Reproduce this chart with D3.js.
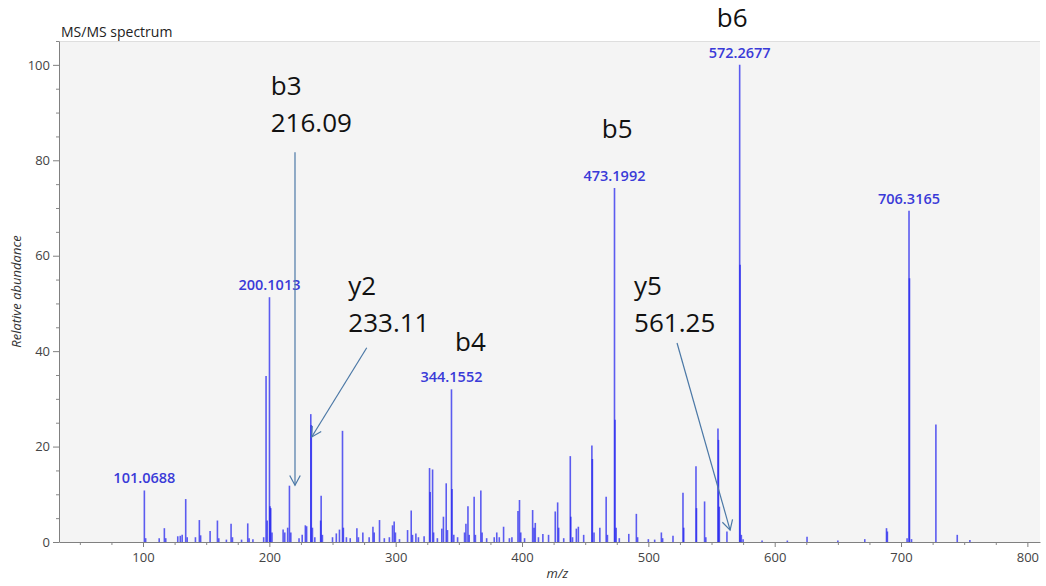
<!DOCTYPE html>
<html>
<head>
<meta charset="utf-8">
<script src="https://cdn.jsdelivr.net/npm/d3@7"></script>
<style>
  body { margin: 0; background: #fff; }
  text { font-family: "Open Sans", "DejaVu Sans", sans-serif; }
</style>
</head>
<body>
<div id="canva"><svg></svg></div>
<script>
const width = 1046;
const height = 586;

// peaks (m/z, relative abundance)
const peakMz = [101.07, 102.1, 112.8, 116.9, 118.0, 127.5, 129.5, 131.0, 133.8, 135.0, 141.5, 144.6, 145.6, 153.1, 158.9, 160.0, 166.0, 169.7, 170.8, 178.0,
  182.9, 184.0, 187.0, 195.5, 197.4, 198.3, 200.1, 200.5, 201.1, 202.1, 210.9, 212.2, 214.5, 215.9, 217.0, 223.5, 226.0, 228.5, 229.5, 232.8,
  233.2, 234.1, 236.0, 240.6, 241.0, 242.0, 250.0, 253.0, 255.5, 257.9, 258.6, 261.0, 264.0, 269.3, 270.5, 274.0, 279.0, 282.0, 283.0, 287.2,
  291.0, 295.0, 297.5, 298.8, 299.8, 303.0, 309.4, 312.3, 313.3, 316.0, 318.0, 322.5, 326.8, 327.3, 329.2, 330.0, 333.0, 336.5, 337.8, 340.0,
  341.0, 344.16, 344.6, 346.0, 349.0, 354.5, 355.6, 357.2, 358.2, 362.1, 363.1, 367.4, 368.4, 372.0, 378.0, 380.0, 382.0, 385.4, 390.0, 392.0,
  396.8, 398.0, 399.0, 402.0, 408.4, 409.5, 410.5, 413.0, 416.5, 421.0, 426.3, 428.2, 429.0, 433.0, 438.2, 438.6, 440.0, 443.0, 444.6, 448.8,
  455.3, 455.7, 457.0, 461.6, 466.6, 467.6, 473.2, 473.6, 474.5, 477.0, 484.5, 490.5, 491.5, 500.0, 505.0, 510.3, 511.3, 519.5, 527.4, 528.0,
  537.7, 538.1, 544.5, 545.5, 555.1, 555.5, 556.2, 562.2, 572.27, 572.6, 573.6, 575.0, 590.0, 610.0, 625.6, 650.0, 671.3, 688.5, 689.2, 704.8,
  706.32, 706.7, 708.3, 727.6, 744.5, 754.5];
const peakInt = [10.8, 0.8, 0.8, 2.9, 0.8, 1.2, 1.3, 1.5, 9.0, 1.0, 1.0, 4.6, 1.4, 2.3, 4.5, 0.8, 0.5, 3.8, 1.0, 0.5,
  3.9, 0.8, 0.6, 1.0, 34.8, 4.5, 51.3, 7.5, 7.1, 2.0, 2.6, 2.0, 3.0, 11.8, 2.0, 0.8, 1.5, 3.5, 3.3, 26.8,
  24.5, 3.0, 1.0, 4.5, 9.7, 1.5, 1.0, 1.8, 2.6, 23.3, 3.0, 1.0, 0.8, 2.9, 1.0, 2.0, 1.0, 3.2, 2.0, 4.6,
  0.8, 1.0, 3.5, 4.3, 2.0, 0.6, 2.5, 6.6, 1.5, 1.8, 1.0, 1.2, 15.5, 10.5, 15.2, 2.0, 0.8, 2.8, 5.3, 12.3,
  2.5, 32.0, 11.1, 1.5, 1.0, 2.0, 3.8, 7.5, 1.5, 9.5, 1.5, 10.8, 2.0, 0.8, 1.0, 2.0, 1.0, 3.2, 0.8, 1.0,
  6.5, 8.8, 2.0, 0.8, 6.7, 3.0, 4.0, 1.0, 1.7, 1.5, 6.4, 8.3, 3.0, 0.8, 18.0, 5.3, 1.0, 2.8, 3.2, 1.5,
  20.2, 17.4, 2.0, 3.0, 9.5, 1.5, 74.2, 25.6, 3.0, 0.8, 1.7, 5.9, 1.0, 0.6, 0.5, 2.0, 0.8, 1.3, 10.3, 3.0,
  15.9, 7.1, 8.5, 1.0, 23.8, 21.4, 7.4, 2.2, 100, 58.1, 1.5, 0.6, 0.3, 0.3, 1.1, 0.3, 0.6, 2.9, 2.2, 0.8,
  69.4, 55.3, 0.6, 24.6, 1.5, 0.4];

// labelled peaks
const labelMz = [101.0688, 200.1013, 344.1552, 473.1992, 572.2677, 706.3165];
const labelInt = [10.8, 51.3, 32.0, 74.2, 100, 69.4];

// ion annotations (black text)
const ionNames = ["b3", "y2", "b4", "b5", "b6", "y5"];
const ionMz = [216.09, 233.11, null, null, null, 561.25];
const ionTextX = [201.1, 262.5, 347.0, 463.1, 554.2, 488.7];
const ionTextY = [93.7, 51.8, 40.1, 84.7, 108.0, 51.8];

// arrows [m/z, abundance] start and end
const arrowFrom = [[220.3, 81.7], [277.1, 40.7], [522.7, 41.7]];
const arrowTo = [[220.3, 11.9], [233.5, 22.0], [564.7, 2.5]];

const xTicks = [100, 200, 300, 400, 500, 600, 700, 800];
const yTicks = [0, 20, 40, 60, 80, 100];

const svg = d3.select("#canva").select("svg")
  .attr("width", width)
  .attr("height", height);

const x = d3.scaleLinear().domain([33.5, 810]).range([59, 1040]);
const y = d3.scaleLinear().domain([0, 105]).range([542, 41]);

// plot background
svg.append("rect")
  .attr("x", x.range()[0]).attr("y", y.range()[1])
  .attr("width", x.range()[1] - x.range()[0])
  .attr("height", y.range()[0] - y.range()[1])
  .attr("fill", "#f4f4f4");
svg.append("line")
  .attr("x1", x.range()[0]).attr("x2", x.range()[1])
  .attr("y1", y.range()[1] + 0.5).attr("y2", y.range()[1] + 0.5)
  .attr("stroke", "#dedede");

// minor ticks first, then the main axes on top
const xMinor = d3.range(50, 801, 25).filter(d => d % 100 != 0);
svg.append("g")
  .attr("transform", `translate(0,${y(0)})`)
  .call(d3.axisBottom(x).tickValues(xMinor).tickSize(3).tickFormat(""))
  .call(g => g.select(".domain").remove())
  .selectAll("line").attr("stroke", "#888");

const yMinor = d3.range(5, 106, 5).filter(d => d % 20 != 0);
svg.append("g")
  .attr("transform", `translate(${x.range()[0]},0)`)
  .call(d3.axisLeft(y).tickValues(yMinor).tickSize(3).tickFormat(""))
  .call(g => g.select(".domain").remove())
  .selectAll("line").attr("stroke", "#888");

const xAxis = svg.append("g")
  .attr("transform", `translate(0,${y(0)})`)
  .call(d3.axisBottom(x).tickValues(xTicks).tickSize(5).tickSizeOuter(0).tickPadding(6));

const yAxis = svg.append("g")
  .attr("transform", `translate(${x.range()[0]},0)`)
  .call(d3.axisLeft(y).tickValues(yTicks).tickSize(6).tickSizeOuter(0).tickPadding(3));

[xAxis, yAxis].forEach(function(g){
  g.select(".domain").attr("stroke", "#808080");
  g.selectAll(".tick line").attr("stroke", "#808080");
  g.selectAll(".tick text")
    .attr("fill", "#444")
    .style("font-size", "13px")
    .style("font-family", '"Open Sans", sans-serif');
});

// the spectrum sticks
const peaks = peakMz.map((m, i) => ({mz: m, v: peakInt[i]}));
svg.append("g")
  .selectAll("line")
  .data(peaks)
  .join("line")
  .attr("x1", d => x(d.mz)).attr("x2", d => x(d.mz))
  .attr("y1", y(0)).attr("y2", d => y(d.v))
  .attr("stroke", "#2020ee")
  .attr("stroke-opacity", 0.72)
  .attr("stroke-width", 1.6);

// peak m/z labels
svg.append("g")
  .selectAll("text")
  .data(labelMz)
  .join("text")
  .attr("x", d => x(d))
  .attr("y", (d, i) => y(labelInt[i]) - 7)
  .attr("text-anchor", "middle")
  .attr("fill", "#3a3ad8")
  .style("font-size", "14.5px")
  .style("font-weight", 600)
  .text(d => d.toFixed(4));

// ion annotation text, second line holds the m/z
const ions = ionNames.map((n, i) => ({name: n, mz: ionMz[i], tx: ionTextX[i], ty: ionTextY[i]}));
const ionG = svg.append("g")
  .selectAll("g")
  .data(ions)
  .join("g")
  .attr("transform", d => `translate(${x(d.tx)},${y(d.ty)})`);
ionG.append("text")
  .text(d => d.name)
  .attr("fill", "#111")
  .style("font-size", "26px");
ionG.filter(d => d.mz != null)
  .append("text")
  .attr("y", 37)
  .text(d => d.mz.toFixed(2))
  .attr("fill", "#111")
  .style("font-size", "26px");

// arrows with open heads
const arrowColor = "#4b78a6";
const arrowG = svg.append("g");
arrowFrom.forEach(function(a, i){
  const x1 = x(a[0]), y1 = y(a[1]);
  const x2 = x(arrowTo[i][0]), y2 = y(arrowTo[i][1]);
  arrowG.append("line")
    .attr("x1", x1).attr("y1", y1).attr("x2", x2).attr("y2", y2)
    .attr("stroke", arrowColor).attr("stroke-width", 1.2);
  const ang = Math.atan2(y2 - y1, x2 - x1);
  const len = 11, spread = 0.5;
  const p = d3.path();
  p.moveTo(x2 - len * Math.cos(ang - spread), y2 - len * Math.sin(ang - spread));
  p.lineTo(x2, y2);
  p.lineTo(x2 - len * Math.cos(ang + spread), y2 - len * Math.sin(ang + spread));
  arrowG.append("path")
    .attr("d", p.toString())
    .attr("fill", "none")
    .attr("stroke", arrowColor).attr("stroke-width", 1.2);
});

// titles
svg.append("text")
  .attr("x", 61).attr("y", 37)
  .attr("fill", "#222")
  .style("font-size", "14px")
  .text("MS/MS spectrum");

svg.append("text")
  .attr("transform", `translate(21,${(y.range()[0] + y.range()[1]) / 2}) rotate(-90)`)
  .attr("text-anchor", "middle")
  .attr("fill", "#333")
  .style("font-size", "13px")
  .style("font-style", "italic")
  .text("Relative abundance");

svg.append("text")
  .attr("x", x(428)).attr("y", 578)
  .attr("text-anchor", "middle")
  .attr("fill", "#333")
  .style("font-size", "13px")
  .style("font-style", "italic")
  .text("m/z");
</script>
</body>
</html>
